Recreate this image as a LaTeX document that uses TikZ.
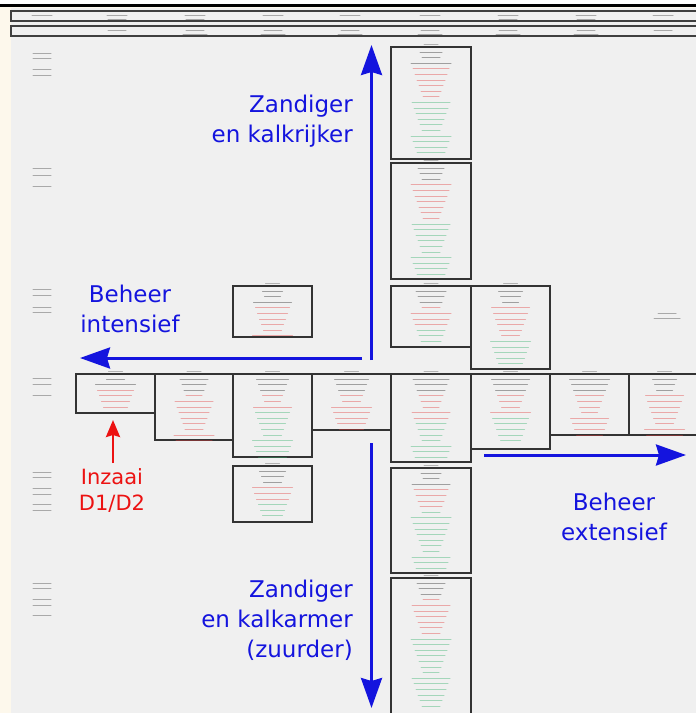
\documentclass[tikz,border=0pt]{standalone}
\usepackage{fontspec}
\setmainfont{DejaVu Sans}
\usetikzlibrary{arrows.meta}

\definecolor{axisblue}{RGB}{20,20,222}
\definecolor{inzaaired}{RGB}{236,18,18}
\definecolor{txtred}{RGB}{226,60,60}
\definecolor{txtgreen}{RGB}{50,175,105}
\definecolor{sheetgray}{RGB}{240,240,240}
\definecolor{cream}{RGB}{253,248,236}

% unreadable small print of the sheet, drawn as short lines
\newcommand\txtlines[6]{%
  \pgfmathtruncatemacro\ntot{#3+#4+#5-1}%
  \pgfmathtruncatemacro\nlim{#3+#4}%
  \foreach \i in {0,...,\ntot}{%
    \pgfmathsetmacro\yy{#2+\i*5.6}%
    \pgfmathsetmacro\ww{8+mod(\i*37+#6,13)}%
    \ifnum\i<#3\relax\def\lc{gtxt}\else\ifnum\i<\nlim\relax\def\lc{rtxt}\else\def\lc{ntxt}\fi\fi
    \draw[txtline,\lc] (#1-\ww,\yy) -- (#1+\ww,\yy);
  }}
% one cell: x1, x2, y1, y2, grey / red / green lines, seed
\newcommand\cellbox[8]{%
  \draw[cell] (#1,#3) rectangle (#2,#4);
  \pgfmathsetmacro\xc{(#1+#2)/2}%
  \draw[txtline,gtxt,opacity=0.3] (\xc-7,#3-2.5) -- (\xc+7,#3-2.5);
  \txtlines{\xc}{#3+5}{#5}{#6}{#7}{#8}}

\begin{document}
\begin{tikzpicture}[
  x=1pt, y=-1pt,
  cell/.style={draw=black!80, line width=1.1pt},
  hdr/.style={draw=black!75, line width=1.1pt},
  txtline/.style={line width=1pt, line cap=round, opacity=0.4},
  gtxt/.style={draw=black!85},
  rtxt/.style={draw=txtred},
  ntxt/.style={draw=txtgreen},
  axis/.style={draw=axisblue, line width=3pt,
               -{Stealth[length=30pt, width=21pt, inset=3pt]}},
  seed/.style={draw=inzaaired, line width=2.5pt,
               -{Stealth[length=17pt, width=14pt, inset=2pt]}},
  biglabel/.style={font=\fontsize{23}{30}\selectfont, text=axisblue, inner sep=0pt},
]
\useasboundingbox (0,0) rectangle (696,713);
% sheet background
\fill[sheetgray] (0,0) rectangle (696,713);
\fill[cream] (0,6) rectangle (11,713);
\fill[white] (0,0) rectangle (696,3.5);
\fill[black] (0,3.5) rectangle (696,6.5);
\fill[cream] (11,6.5) rectangle (696,8);

% header rows
\draw[hdr] (11,11) rectangle (700,21);
\draw[hdr] (11,26) rectangle (700,36);
\foreach \x in {42,117,195,273,350,430,508,586,663}
  \draw[txtline,gtxt,opacity=0.35] (\x-10,15.5) -- (\x+10,15.5);
\foreach \x in {117,195,508,586}
  \draw[txtline,gtxt,opacity=0.35] (\x-9,19) -- (\x+9,19);
\foreach \x in {117,195,273,350,430,508,586,663}
  \draw[txtline,gtxt,opacity=0.35] (\x-9,30.5) -- (\x+9,30.5);
\foreach \x in {195,273,350,430,508,586}
  \draw[txtline,gtxt,opacity=0.35] (\x-12,34) -- (\x+12,34);

% row labels in the left column
\foreach \y in {53,58,69,75,168,175,186,289,295,307,312,378,384,395,
                472,477,488,494,504,510,583,588,599,605,615}
  \draw[txtline,gtxt,opacity=0.35] (42-9,\y) -- (42+9,\y);
\draw[txtline,gtxt,opacity=0.35] (667-9,313) -- (667+9,313);
\draw[txtline,gtxt,opacity=0.35] (667-13,318) -- (667+13,318);

% central column
\cellbox{391}{471}{47}{159}{3}{6}{10}{3}
\cellbox{391}{471}{163}{279}{3}{7}{10}{5}
\cellbox{391}{471}{286}{347}{3}{4}{3}{7}
% upper row
\cellbox{233}{312}{286}{337}{3}{6}{0}{2}
\cellbox{471}{550}{286}{369}{3}{6}{5}{4}
% middle row
\cellbox{76}{155}{374}{413}{2}{4}{0}{1}
\cellbox{155}{233}{374}{440}{3}{9}{0}{6}
\cellbox{233}{312}{374}{457}{3}{3}{9}{8}
\cellbox{312}{391}{374}{430}{3}{7}{0}{9}
\cellbox{391}{471}{374}{462}{3}{5}{7}{10}
\cellbox{471}{550}{374}{449}{3}{4}{5}{11}
\cellbox{550}{629}{374}{435}{3}{8}{0}{12}
\cellbox{629}{700}{374}{435}{3}{8}{0}{4}
% lower rows
\cellbox{233}{312}{466}{522}{3}{3}{3}{5}
\cellbox{391}{471}{468}{573}{3}{4}{11}{2}
\cellbox{391}{471}{578}{716}{3}{7}{13}{6}

% axes
\coordinate (upS)  at (371.5,360);
\coordinate (upN)  at (371.5,45);
\coordinate (dnN)  at (371.5,443);
\coordinate (dnS)  at (371.5,708);
\coordinate (lfE)  at (362,358);
\coordinate (lfW)  at (80,358);
\coordinate (rtW)  at (484,455);
\coordinate (rtE)  at (686,455);
\coordinate (sdS)  at (113,463);
\coordinate (sdN)  at (113,420);
\draw[axis] (upS) -- (upN);
\draw[axis] (dnN) -- (dnS);
\draw[axis] (lfE) -- (lfW);
\draw[axis] (rtW) -- (rtE);
\draw[seed] (sdS) -- (sdN);

% axis labels
\node[biglabel, align=right, anchor=east] (rich) at (353,121) {Zandiger\\en kalkrijker};
\node[biglabel, align=center] (intens) at (130,309) {Beheer\\intensief};
\node[biglabel, align=center] (extens) at (614,517) {Beheer\\extensief};
\node[biglabel, align=right, anchor=east] (poor) at (353,620) {Zandiger\\en kalkarmer\\(zuurder)};
\node[biglabel, align=center, text=inzaaired, font=\fontsize{21}{26}\selectfont] (inzaai) at (112,490) {Inzaai\\D1/D2};
\end{tikzpicture}
\end{document}
